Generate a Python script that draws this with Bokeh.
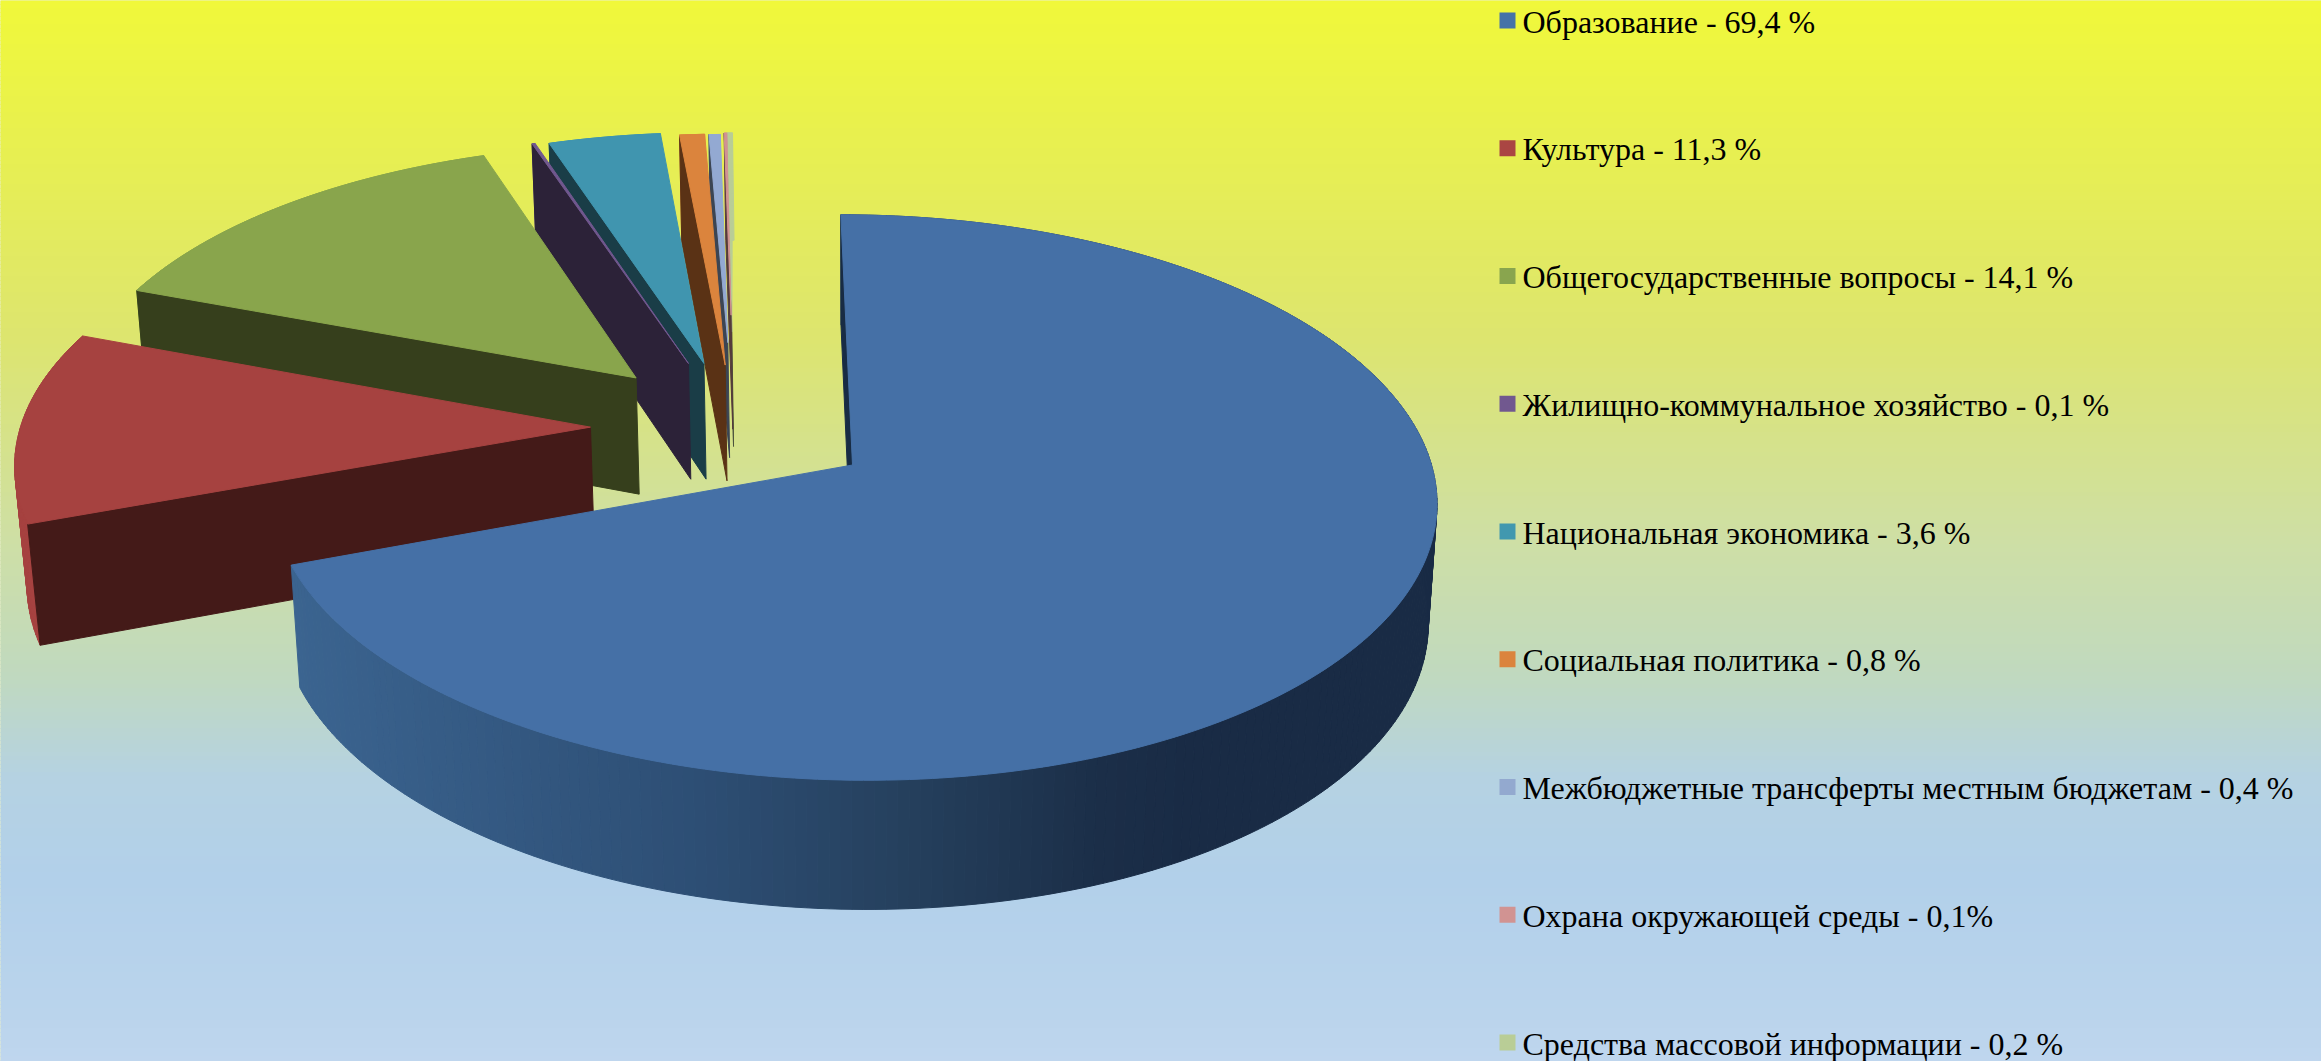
import numpy as np
from bokeh.plotting import figure
from bokeh.models import Range1d, ColumnDataSource
from bokeh.core.properties import value
from bokeh.embed import file_html
from bokeh.resources import INLINE

# ---- data
categories = ["Образование", "Культура", "Общегосударственные вопросы",
              "Жилищно-коммунальное хозяйство", "Национальная экономика",
              "Социальная политика", "Межбюджетные трансферты местным бюджетам",
              "Охрана окружающей среды", "Средства массовой информации"]
shares = [69.4, 11.3, 14.1, 0.1, 3.6, 0.8, 0.4, 0.1, 0.2]
legend_suffix = ["69,4 %", "11,3 %", "14,1 %", "0,1 %", "3,6 %", "0,8 %", "0,4 %", "0,1%", "0,2 %"]

# ---- styles
top_colors = ["#4570A6", "#A64240", "#89A54C", "#71588F", "#4095AF", "#DB843D", "#93A9D2", "#D19392", "#B9CD96"]
wall_colors = ["#182C44", "#441A18", "#363F1C", "#2C2238", "#1A3D47", "#5A3215", "#3C4553", "#553B3B", "#4C533D"]
legend_colors = ["#4572A7", "#AA4643", "#89A54E", "#71588F", "#4198AF", "#DB843D", "#93A9CF", "#D19392", "#B9CD96"]
explode_mag = [0.0, 0.477, 0.4995, 0.476, 0.46, 0.434, 0.51, 0.61, 0.5465]
explode_dir = [0.0, 286.8, 310.4, 322.9, 325.7, 329.4, 334.9, 339.8, 337.5]
slice_radius = [1.0, 1.0, 1.0, 1.0, 1.0, 1.0, 0.91, 0.806, 0.874]

# ---- camera
cx, cy, a, e, b, c, k, m = 852.0, 464.5, 579.0, -13.0, 279.0, 121.0, 0.115, 0.015

def proj(X, Y, Z):
    w = 1 + k * Y + m * Z
    return cx + (a * X + e * Y) / w, cy + (-b * Y + c * Z) / w

grad_y = [0, 120, 338, 541, 676, 778, 880, 1015, 1061]
grad_r = [240, 233, 221, 206, 192, 181, 178, 186, 191]
grad_g = [248, 241, 229, 223, 217, 210, 208, 212, 214]
grad_b = [58, 76, 111, 165, 191, 226, 234, 236, 238]
shade_x = [290, 700, 888, 1100, 1190, 1440]
shade_r = [59, 45, 38, 27, 25, 25]
shade_g = [100, 78, 65, 46, 43, 43]
shade_b = [144, 116, 95, 72, 69, 69]

def hex3(r, g, bl):
    return "#%02x%02x%02x" % (int(round(r)), int(round(g)), int(round(bl)))

p = figure(width=2321, height=1061, x_range=Range1d(0, 2321), y_range=Range1d(1061, 0),
           output_backend="svg", toolbar_location=None, min_border=0)
p.axis.visible = False
p.grid.visible = False
p.outline_line_color = None
p.background_fill_color = "#d6e29a"
p.border_fill_color = "#d6e29a"

# background
rows = np.arange(0, 1061, 4)
mid = rows + 2
bg = [hex3(np.interp(y, grad_y, grad_r), np.interp(y, grad_y, grad_g), np.interp(y, grad_y, grad_b)) for y in mid]
p.quad(left=-10, right=2331, top=rows - 0.6, bottom=rows + 4.6, fill_color=bg, line_color=None)

# pie
xs, ys, fills = [], [], []
def add(px, py, col):
    xs.append(list(map(float, px))); ys.append(list(map(float, py))); fills.append(col)

edges = 3.6 * np.concatenate([[0], np.cumsum(shares)])
for i in reversed(range(len(shares))):
    t1, t2 = edges[i], edges[i + 1]
    ox = explode_mag[i] * np.sin(np.radians(explode_dir[i]))
    oy = explode_mag[i] * np.cos(np.radians(explode_dir[i]))
    r = slice_radius[i]
    n = max(2, int((t2 - t1) / 1.0))
    th = np.radians(np.linspace(t1, t2, n))
    X, Y = ox + r * np.sin(th), oy + r * np.cos(th)
    tx, ty = proj(X, Y, 0)
    bx, by = proj(X, Y, 1)
    ax0, ay0 = proj(ox, oy, 0)
    ax1, ay1 = proj(ox, oy, 1)
    # outer wall
    for j in range(n - 1):
        if i == 0:
            xm = 0.5 * (tx[j] + tx[j + 1])
            col = hex3(np.interp(xm, shade_x, shade_r), np.interp(xm, shade_x, shade_g), np.interp(xm, shade_x, shade_b))
        else:
            col = top_colors[i]
        add([tx[j], tx[j + 1], bx[j + 1], bx[j]], [ty[j], ty[j + 1], by[j + 1], by[j]], col)
    # radial wall on the leading edge
    add([ax0, tx[0], bx[0], ax1], [ay0, ty[0], by[0], ay1], wall_colors[i])
    # top face
    add(np.concatenate([[ax0], tx]), np.concatenate([[ay0], ty]), top_colors[i])

p.patches(xs, ys, fill_color=fills, line_color=fills, line_width=1.0)

# legend
idx = np.arange(len(categories))
row_y = 20 + 127.75 * idx
p.quad(left=1499, right=1515, top=row_y - 8, bottom=row_y + 8, fill_color=legend_colors, line_color=None)
labels = [f"{n} - {s}" for n, s in zip(categories, legend_suffix)]
src = ColumnDataSource(dict(x=[1522] * len(labels), y=row_y + 1, t=labels))
p.text("x", "y", text="t", source=src, text_font=value("Liberation Serif"), text_font_size="32px",
       text_color="#000000", text_baseline="alphabetic", text_align="left")

open("out.html", "w").write(file_html(p, INLINE))
